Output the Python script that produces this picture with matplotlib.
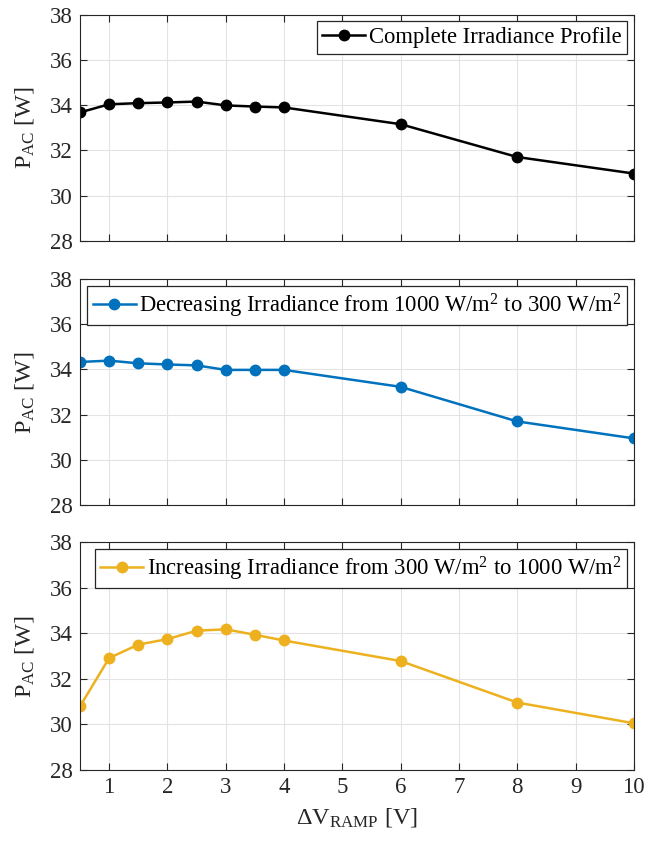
import numpy as np
import matplotlib
matplotlib.use("Agg")
import matplotlib.pyplot as plt

plt.rcParams['font.family'] = ['Liberation Serif', 'DejaVu Serif']
plt.rcParams['mathtext.fontset'] = 'custom'
plt.rcParams['mathtext.rm'] = 'Liberation Serif'
plt.rcParams['mathtext.it'] = 'Liberation Serif:italic'

# dati
dv_ramp = [0.5, 1, 1.5, 2, 2.5, 3, 3.5, 4, 6, 8, 10]
p_complete = [33.68, 34.04, 34.09, 34.12, 34.16, 33.99, 33.94, 33.90, 33.16, 31.71, 30.98]
p_decreasing = [34.33, 34.39, 34.27, 34.22, 34.18, 33.98, 33.98, 33.98, 33.23, 31.70, 30.95]
p_increasing = [30.79, 32.91, 33.50, 33.74, 34.11, 34.17, 33.93, 33.68, 32.78, 30.96, 30.05]

labels = ['Complete Irradiance Profile',
          'Decreasing Irradiance from 1000 W/m$^2$ to 300 W/m$^2$',
          'Increasing Irradiance from 300 W/m$^2$ to 1000 W/m$^2$']
colors = ['black', '#0072BD', '#EDB120']
series = [p_complete, p_decreasing, p_increasing]

fig = plt.figure(figsize=(6.47, 8.42), dpi=100)
boxes = [[0.1236, 0.7138, 0.856, 0.2688],
         [0.1236, 0.4002, 0.856, 0.2684],
         [0.1236, 0.0855, 0.856, 0.2708]]

for i in range(3):
    ax = fig.add_axes(boxes[i])
    ax.plot(dv_ramp, series[i], '-o', color=colors[i], lw=1.8, ms=7.5, label=labels[i])
    ax.set_xlim(0.5, 10)
    ax.set_ylim(28, 38)
    ax.set_xticks(range(1, 11))
    ax.set_yticks(range(28, 39, 2))
    ax.grid(True, color='#e3e3e3', lw=0.8)
    ax.set_axisbelow(True)
    ax.tick_params(direction='in', top=True, right=True, labelsize=16.5, length=5,
                   colors='#262626', pad=5)
    for s in ax.spines.values():
        s.set_color('#262626')
    ax.set_ylabel('P$_{\\rm AC}$ [W]', fontsize=17.5, color='#262626', labelpad=10)
    if i < 2:
        ax.set_xticklabels([])
    else:
        ax.set_xlabel('ΔV$_{\\rm RAMP}$ [V]', fontsize=17.5, color='#262626', labelpad=6)
    leg = ax.legend(loc='upper right', fontsize=16.3, fancybox=False, framealpha=1,
                    edgecolor='#262626', handlelength=1.9, handletextpad=0.15,
                    borderaxespad=0.3, borderpad=0.25)
    leg.get_frame().set_linewidth(0.9)

fig.savefig('out.png', dpi=100)
